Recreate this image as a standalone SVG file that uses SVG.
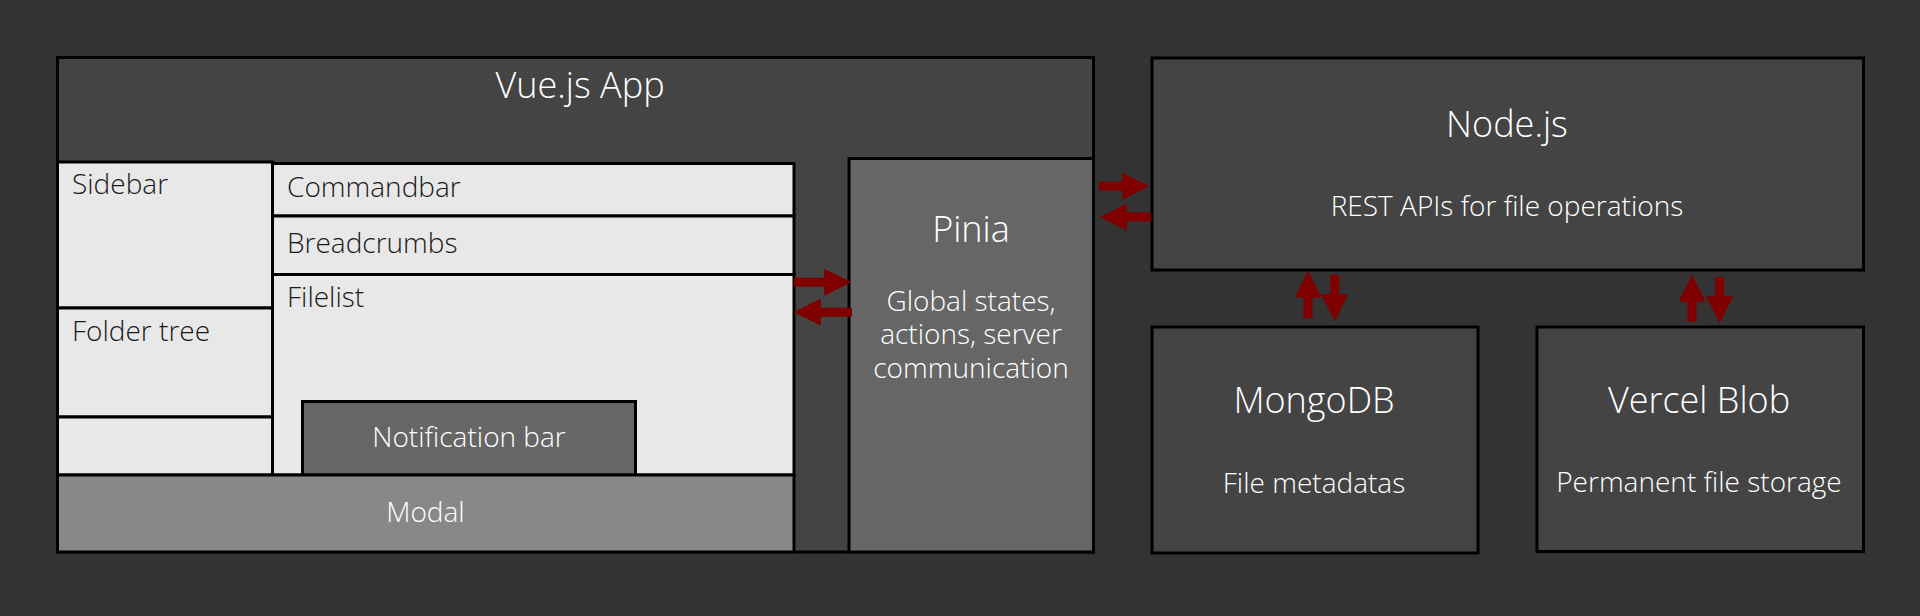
<svg xmlns="http://www.w3.org/2000/svg" width="1920" height="616" viewBox="0 0 1920 616">
<style>
.box{stroke:#000;stroke-width:3}
.dark{fill:#444444}
.light{fill:#e8e8e8}
.mid{fill:#666666}
.modal{fill:#888888}
text{font-family:"Open Sans","Noto Sans","Liberation Sans",sans-serif;font-weight:300}
.t{fill:#ffffff;font-size:36px;text-anchor:middle}
.s{fill:#ffffff;font-size:28px;text-anchor:middle}
.l{fill:#1a1a1a;font-size:28px}
.arr{stroke:#800000;stroke-width:9;fill:none;marker-end:url(#ah)}
</style>
<defs>
<marker id="ah" viewBox="0 0 10 10" refX="0.3" refY="5" markerWidth="3" markerHeight="3" markerUnits="strokeWidth" orient="auto">
<path d="M0,0 L10,5 L0,10 z" fill="#800000"/>
</marker>
</defs>
<rect width="1920" height="616" fill="#333333"/>
<g id="vue-app">
<rect class="box dark" x="57.5" y="57.5" width="1036" height="494.5"/>
<text class="t" x="580" y="98">Vue.js App</text>
</g>
<g id="sidebar">
<rect class="box light" x="57.5" y="162" width="215" height="146"/>
<text class="l" x="72" y="194">Sidebar</text>
</g>
<g id="folder-tree">
<rect class="box light" x="57.5" y="308" width="215" height="109"/>
<text class="l" x="72" y="341">Folder tree</text>
</g>
<g id="sidebar-bottom">
<rect class="box light" x="57.5" y="417" width="215" height="58"/>
</g>
<g id="commandbar">
<rect class="box light" x="272.5" y="163.5" width="521.5" height="52.5"/>
<text class="l" x="287" y="197">Commandbar</text>
</g>
<g id="breadcrumbs">
<rect class="box light" x="272.5" y="216" width="521.5" height="58.5"/>
<text class="l" x="287" y="253">Breadcrumbs</text>
</g>
<g id="filelist">
<rect class="box light" x="272.5" y="274.5" width="521.5" height="200.5"/>
<text class="l" x="287" y="306.5">Filelist</text>
</g>
<g id="notification-bar">
<rect class="box mid" x="302.5" y="401.5" width="333" height="73.5"/>
<text class="s" x="469" y="446.5">Notification bar</text>
</g>
<g id="modal">
<rect class="box modal" x="57.5" y="475" width="736.5" height="77"/>
<text class="s" x="425.5" y="521.5">Modal</text>
</g>
<g id="pinia">
<rect class="box mid" x="849" y="158.5" width="244.5" height="393.5"/>
<text class="t" x="971" y="241.5">Pinia</text>
<text class="s" x="971" y="310.5">Global states,</text>
<text class="s" x="971" y="344">actions, server</text>
<text class="s" x="971" y="378">communication</text>
</g>
<g id="nodejs">
<rect class="box dark" x="1152" y="58" width="711.5" height="212"/>
<text class="t" x="1507" y="136.5">Node.js</text>
<text class="s" x="1507" y="215.5">REST APIs for file operations</text>
</g>
<g id="mongodb">
<rect class="box dark" x="1152" y="327" width="326" height="226"/>
<text class="t" x="1314" y="413">MongoDB</text>
<text class="s" x="1314" y="492.5">File metadatas</text>
</g>
<g id="vercel-blob">
<rect class="box dark" x="1537" y="327" width="326.5" height="224.5"/>
<text class="t" x="1699" y="413">Vercel Blob</text>
<text class="s" x="1699" y="491.5">Permanent file storage</text>
</g>
<g id="connectors">
<path class="arr" d="M794,282.2 H825"/>
<path class="arr" d="M852,312.2 H820"/>
<path class="arr" d="M1099,186.2 H1123"/>
<path class="arr" d="M1151,217 H1126"/>
<path class="arr" d="M1308,318 V297"/>
<path class="arr" d="M1334.7,275 V295"/>
<path class="arr" d="M1692,321.7 V301"/>
<path class="arr" d="M1719.6,277 V297"/>
</g>
</svg>
